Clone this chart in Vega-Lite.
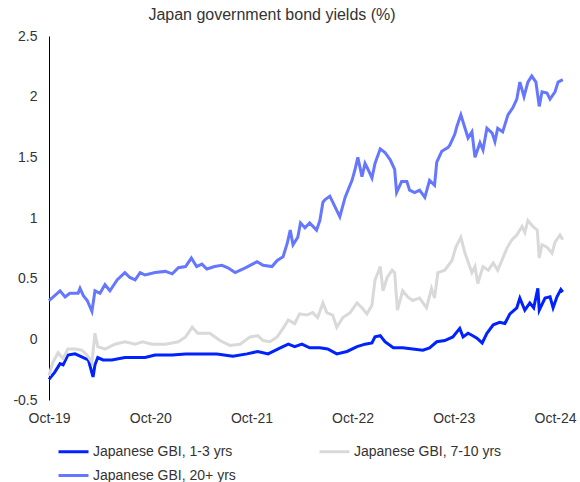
{
  "$schema": "https://vega.github.io/schema/vega-lite/v6.json",
  "width": 516,
  "height": 364,
  "autosize": "none",
  "padding": {"left": 49, "top": 36, "right": 15, "bottom": 82},
  "background": "white",
  "config": {"view": {"stroke": null}, "font": "Liberation Sans"},
  "title": {"text": "Japan government bond yields (%)", "fontSize": 16, "fontWeight": "normal", "color": "#333333", "offset": 6, "anchor": "middle", "dx": -35, "font": "Liberation Sans"},
  "layer": [
    {
      "mark": {"type": "rule", "color": "#404040", "strokeWidth": 1},
      "encoding": {"y": {"datum": 0}}
    },
    {
      "data": {"values": [
        {"date": "2019-10-01", "series": "Japanese GBI, 1-3 yrs", "value": -0.33},
        {"date": "2019-10-22", "series": "Japanese GBI, 1-3 yrs", "value": -0.27},
        {"date": "2019-11-10", "series": "Japanese GBI, 1-3 yrs", "value": -0.20},
        {"date": "2019-11-21", "series": "Japanese GBI, 1-3 yrs", "value": -0.21},
        {"date": "2019-12-08", "series": "Japanese GBI, 1-3 yrs", "value": -0.13},
        {"date": "2020-01-03", "series": "Japanese GBI, 1-3 yrs", "value": -0.12},
        {"date": "2020-02-02", "series": "Japanese GBI, 1-3 yrs", "value": -0.15},
        {"date": "2020-02-20", "series": "Japanese GBI, 1-3 yrs", "value": -0.17},
        {"date": "2020-03-08", "series": "Japanese GBI, 1-3 yrs", "value": -0.31},
        {"date": "2020-03-15", "series": "Japanese GBI, 1-3 yrs", "value": -0.21},
        {"date": "2020-03-25", "series": "Japanese GBI, 1-3 yrs", "value": -0.15},
        {"date": "2020-04-13", "series": "Japanese GBI, 1-3 yrs", "value": -0.17},
        {"date": "2020-05-15", "series": "Japanese GBI, 1-3 yrs", "value": -0.17},
        {"date": "2020-07-01", "series": "Japanese GBI, 1-3 yrs", "value": -0.15},
        {"date": "2020-09-12", "series": "Japanese GBI, 1-3 yrs", "value": -0.15},
        {"date": "2020-10-18", "series": "Japanese GBI, 1-3 yrs", "value": -0.13},
        {"date": "2020-12-19", "series": "Japanese GBI, 1-3 yrs", "value": -0.13},
        {"date": "2021-02-05", "series": "Japanese GBI, 1-3 yrs", "value": -0.12},
        {"date": "2021-03-21", "series": "Japanese GBI, 1-3 yrs", "value": -0.12},
        {"date": "2021-05-29", "series": "Japanese GBI, 1-3 yrs", "value": -0.12},
        {"date": "2021-07-26", "series": "Japanese GBI, 1-3 yrs", "value": -0.14},
        {"date": "2021-09-15", "series": "Japanese GBI, 1-3 yrs", "value": -0.12},
        {"date": "2021-10-24", "series": "Japanese GBI, 1-3 yrs", "value": -0.10},
        {"date": "2021-11-30", "series": "Japanese GBI, 1-3 yrs", "value": -0.12},
        {"date": "2022-01-13", "series": "Japanese GBI, 1-3 yrs", "value": -0.07},
        {"date": "2022-02-11", "series": "Japanese GBI, 1-3 yrs", "value": -0.04},
        {"date": "2022-03-06", "series": "Japanese GBI, 1-3 yrs", "value": -0.06},
        {"date": "2022-04-01", "series": "Japanese GBI, 1-3 yrs", "value": -0.04},
        {"date": "2022-04-29", "series": "Japanese GBI, 1-3 yrs", "value": -0.07},
        {"date": "2022-06-05", "series": "Japanese GBI, 1-3 yrs", "value": -0.07},
        {"date": "2022-07-03", "series": "Japanese GBI, 1-3 yrs", "value": -0.08},
        {"date": "2022-08-05", "series": "Japanese GBI, 1-3 yrs", "value": -0.12},
        {"date": "2022-09-11", "series": "Japanese GBI, 1-3 yrs", "value": -0.10},
        {"date": "2022-10-17", "series": "Japanese GBI, 1-3 yrs", "value": -0.06},
        {"date": "2022-11-15", "series": "Japanese GBI, 1-3 yrs", "value": -0.04},
        {"date": "2022-12-10", "series": "Japanese GBI, 1-3 yrs", "value": -0.03},
        {"date": "2022-12-21", "series": "Japanese GBI, 1-3 yrs", "value": 0.02},
        {"date": "2023-01-09", "series": "Japanese GBI, 1-3 yrs", "value": 0.03},
        {"date": "2023-01-26", "series": "Japanese GBI, 1-3 yrs", "value": -0.02},
        {"date": "2023-02-25", "series": "Japanese GBI, 1-3 yrs", "value": -0.07},
        {"date": "2023-03-31", "series": "Japanese GBI, 1-3 yrs", "value": -0.07},
        {"date": "2023-05-06", "series": "Japanese GBI, 1-3 yrs", "value": -0.08},
        {"date": "2023-06-12", "series": "Japanese GBI, 1-3 yrs", "value": -0.09},
        {"date": "2023-07-06", "series": "Japanese GBI, 1-3 yrs", "value": -0.07},
        {"date": "2023-08-01", "series": "Japanese GBI, 1-3 yrs", "value": -0.02},
        {"date": "2023-08-30", "series": "Japanese GBI, 1-3 yrs", "value": -0.01},
        {"date": "2023-09-28", "series": "Japanese GBI, 1-3 yrs", "value": 0.02},
        {"date": "2023-10-23", "series": "Japanese GBI, 1-3 yrs", "value": 0.09},
        {"date": "2023-11-04", "series": "Japanese GBI, 1-3 yrs", "value": 0.02},
        {"date": "2023-11-22", "series": "Japanese GBI, 1-3 yrs", "value": 0.05},
        {"date": "2023-12-09", "series": "Japanese GBI, 1-3 yrs", "value": 0.03},
        {"date": "2023-12-24", "series": "Japanese GBI, 1-3 yrs", "value": 0.01},
        {"date": "2024-01-12", "series": "Japanese GBI, 1-3 yrs", "value": -0.03},
        {"date": "2024-01-29", "series": "Japanese GBI, 1-3 yrs", "value": 0.05},
        {"date": "2024-02-21", "series": "Japanese GBI, 1-3 yrs", "value": 0.12},
        {"date": "2024-03-15", "series": "Japanese GBI, 1-3 yrs", "value": 0.14},
        {"date": "2024-04-03", "series": "Japanese GBI, 1-3 yrs", "value": 0.13},
        {"date": "2024-04-21", "series": "Japanese GBI, 1-3 yrs", "value": 0.21},
        {"date": "2024-05-16", "series": "Japanese GBI, 1-3 yrs", "value": 0.26},
        {"date": "2024-05-27", "series": "Japanese GBI, 1-3 yrs", "value": 0.34},
        {"date": "2024-06-14", "series": "Japanese GBI, 1-3 yrs", "value": 0.24},
        {"date": "2024-07-02", "series": "Japanese GBI, 1-3 yrs", "value": 0.30},
        {"date": "2024-07-16", "series": "Japanese GBI, 1-3 yrs", "value": 0.26},
        {"date": "2024-07-31", "series": "Japanese GBI, 1-3 yrs", "value": 0.42},
        {"date": "2024-08-05", "series": "Japanese GBI, 1-3 yrs", "value": 0.24},
        {"date": "2024-08-26", "series": "Japanese GBI, 1-3 yrs", "value": 0.34},
        {"date": "2024-09-13", "series": "Japanese GBI, 1-3 yrs", "value": 0.35},
        {"date": "2024-09-24", "series": "Japanese GBI, 1-3 yrs", "value": 0.26},
        {"date": "2024-10-08", "series": "Japanese GBI, 1-3 yrs", "value": 0.35},
        {"date": "2024-10-22", "series": "Japanese GBI, 1-3 yrs", "value": 0.41},
        {"date": "2024-10-29", "series": "Japanese GBI, 1-3 yrs", "value": 0.39},

        {"date": "2019-10-01", "series": "Japanese GBI, 7-10 yrs", "value": -0.30},
        {"date": "2019-10-15", "series": "Japanese GBI, 7-10 yrs", "value": -0.19},
        {"date": "2019-11-03", "series": "Japanese GBI, 7-10 yrs", "value": -0.11},
        {"date": "2019-11-21", "series": "Japanese GBI, 7-10 yrs", "value": -0.16},
        {"date": "2019-12-08", "series": "Japanese GBI, 7-10 yrs", "value": -0.08},
        {"date": "2020-01-03", "series": "Japanese GBI, 7-10 yrs", "value": -0.08},
        {"date": "2020-01-28", "series": "Japanese GBI, 7-10 yrs", "value": -0.09},
        {"date": "2020-02-16", "series": "Japanese GBI, 7-10 yrs", "value": -0.13},
        {"date": "2020-03-04", "series": "Japanese GBI, 7-10 yrs", "value": -0.19},
        {"date": "2020-03-15", "series": "Japanese GBI, 7-10 yrs", "value": 0.05},
        {"date": "2020-03-25", "series": "Japanese GBI, 7-10 yrs", "value": -0.06},
        {"date": "2020-04-20", "series": "Japanese GBI, 7-10 yrs", "value": -0.08},
        {"date": "2020-05-26", "series": "Japanese GBI, 7-10 yrs", "value": -0.04},
        {"date": "2020-07-01", "series": "Japanese GBI, 7-10 yrs", "value": -0.02},
        {"date": "2020-08-07", "series": "Japanese GBI, 7-10 yrs", "value": -0.04},
        {"date": "2020-09-02", "series": "Japanese GBI, 7-10 yrs", "value": -0.02},
        {"date": "2020-10-07", "series": "Japanese GBI, 7-10 yrs", "value": -0.04},
        {"date": "2020-11-24", "series": "Japanese GBI, 7-10 yrs", "value": -0.04},
        {"date": "2021-01-10", "series": "Japanese GBI, 7-10 yrs", "value": -0.02},
        {"date": "2021-02-05", "series": "Japanese GBI, 7-10 yrs", "value": 0.02},
        {"date": "2021-03-01", "series": "Japanese GBI, 7-10 yrs", "value": 0.10},
        {"date": "2021-03-21", "series": "Japanese GBI, 7-10 yrs", "value": 0.05},
        {"date": "2021-05-04", "series": "Japanese GBI, 7-10 yrs", "value": 0.05},
        {"date": "2021-06-09", "series": "Japanese GBI, 7-10 yrs", "value": -0.01},
        {"date": "2021-07-15", "series": "Japanese GBI, 7-10 yrs", "value": -0.05},
        {"date": "2021-08-21", "series": "Japanese GBI, 7-10 yrs", "value": -0.04},
        {"date": "2021-09-26", "series": "Japanese GBI, 7-10 yrs", "value": 0.02},
        {"date": "2021-10-24", "series": "Japanese GBI, 7-10 yrs", "value": 0.03},
        {"date": "2021-11-12", "series": "Japanese GBI, 7-10 yrs", "value": -0.01},
        {"date": "2021-12-07", "series": "Japanese GBI, 7-10 yrs", "value": -0.02},
        {"date": "2022-01-02", "series": "Japanese GBI, 7-10 yrs", "value": 0.02},
        {"date": "2022-01-23", "series": "Japanese GBI, 7-10 yrs", "value": 0.09},
        {"date": "2022-02-11", "series": "Japanese GBI, 7-10 yrs", "value": 0.16},
        {"date": "2022-03-06", "series": "Japanese GBI, 7-10 yrs", "value": 0.13},
        {"date": "2022-03-24", "series": "Japanese GBI, 7-10 yrs", "value": 0.21},
        {"date": "2022-04-19", "series": "Japanese GBI, 7-10 yrs", "value": 0.20},
        {"date": "2022-05-10", "series": "Japanese GBI, 7-10 yrs", "value": 0.22},
        {"date": "2022-05-28", "series": "Japanese GBI, 7-10 yrs", "value": 0.18},
        {"date": "2022-06-16", "series": "Japanese GBI, 7-10 yrs", "value": 0.30},
        {"date": "2022-06-30", "series": "Japanese GBI, 7-10 yrs", "value": 0.22},
        {"date": "2022-07-21", "series": "Japanese GBI, 7-10 yrs", "value": 0.20},
        {"date": "2022-08-05", "series": "Japanese GBI, 7-10 yrs", "value": 0.10},
        {"date": "2022-08-27", "series": "Japanese GBI, 7-10 yrs", "value": 0.18},
        {"date": "2022-09-22", "series": "Japanese GBI, 7-10 yrs", "value": 0.22},
        {"date": "2022-10-17", "series": "Japanese GBI, 7-10 yrs", "value": 0.30},
        {"date": "2022-11-04", "series": "Japanese GBI, 7-10 yrs", "value": 0.26},
        {"date": "2022-11-22", "series": "Japanese GBI, 7-10 yrs", "value": 0.21},
        {"date": "2022-12-10", "series": "Japanese GBI, 7-10 yrs", "value": 0.28},
        {"date": "2022-12-21", "series": "Japanese GBI, 7-10 yrs", "value": 0.49},
        {"date": "2023-01-01", "series": "Japanese GBI, 7-10 yrs", "value": 0.55},
        {"date": "2023-01-09", "series": "Japanese GBI, 7-10 yrs", "value": 0.60},
        {"date": "2023-01-19", "series": "Japanese GBI, 7-10 yrs", "value": 0.40},
        {"date": "2023-02-03", "series": "Japanese GBI, 7-10 yrs", "value": 0.51},
        {"date": "2023-02-21", "series": "Japanese GBI, 7-10 yrs", "value": 0.57},
        {"date": "2023-03-02", "series": "Japanese GBI, 7-10 yrs", "value": 0.55},
        {"date": "2023-03-12", "series": "Japanese GBI, 7-10 yrs", "value": 0.24},
        {"date": "2023-03-31", "series": "Japanese GBI, 7-10 yrs", "value": 0.40},
        {"date": "2023-04-18", "series": "Japanese GBI, 7-10 yrs", "value": 0.35},
        {"date": "2023-05-06", "series": "Japanese GBI, 7-10 yrs", "value": 0.32},
        {"date": "2023-05-31", "series": "Japanese GBI, 7-10 yrs", "value": 0.34},
        {"date": "2023-06-25", "series": "Japanese GBI, 7-10 yrs", "value": 0.26},
        {"date": "2023-07-13", "series": "Japanese GBI, 7-10 yrs", "value": 0.42},
        {"date": "2023-07-24", "series": "Japanese GBI, 7-10 yrs", "value": 0.34},
        {"date": "2023-08-05", "series": "Japanese GBI, 7-10 yrs", "value": 0.55},
        {"date": "2023-08-30", "series": "Japanese GBI, 7-10 yrs", "value": 0.57},
        {"date": "2023-09-25", "series": "Japanese GBI, 7-10 yrs", "value": 0.65},
        {"date": "2023-10-09", "series": "Japanese GBI, 7-10 yrs", "value": 0.76},
        {"date": "2023-10-27", "series": "Japanese GBI, 7-10 yrs", "value": 0.84},
        {"date": "2023-11-11", "series": "Japanese GBI, 7-10 yrs", "value": 0.71},
        {"date": "2023-11-22", "series": "Japanese GBI, 7-10 yrs", "value": 0.64},
        {"date": "2023-12-06", "series": "Japanese GBI, 7-10 yrs", "value": 0.55},
        {"date": "2023-12-17", "series": "Japanese GBI, 7-10 yrs", "value": 0.60},
        {"date": "2023-12-27", "series": "Japanese GBI, 7-10 yrs", "value": 0.46},
        {"date": "2024-01-15", "series": "Japanese GBI, 7-10 yrs", "value": 0.60},
        {"date": "2024-02-03", "series": "Japanese GBI, 7-10 yrs", "value": 0.57},
        {"date": "2024-02-21", "series": "Japanese GBI, 7-10 yrs", "value": 0.63},
        {"date": "2024-03-08", "series": "Japanese GBI, 7-10 yrs", "value": 0.57},
        {"date": "2024-03-23", "series": "Japanese GBI, 7-10 yrs", "value": 0.65},
        {"date": "2024-04-10", "series": "Japanese GBI, 7-10 yrs", "value": 0.75},
        {"date": "2024-04-28", "series": "Japanese GBI, 7-10 yrs", "value": 0.82},
        {"date": "2024-05-16", "series": "Japanese GBI, 7-10 yrs", "value": 0.86},
        {"date": "2024-06-04", "series": "Japanese GBI, 7-10 yrs", "value": 0.93},
        {"date": "2024-06-14", "series": "Japanese GBI, 7-10 yrs", "value": 0.88},
        {"date": "2024-06-25", "series": "Japanese GBI, 7-10 yrs", "value": 0.98},
        {"date": "2024-07-13", "series": "Japanese GBI, 7-10 yrs", "value": 0.93},
        {"date": "2024-07-29", "series": "Japanese GBI, 7-10 yrs", "value": 0.90},
        {"date": "2024-08-05", "series": "Japanese GBI, 7-10 yrs", "value": 0.67},
        {"date": "2024-08-15", "series": "Japanese GBI, 7-10 yrs", "value": 0.78},
        {"date": "2024-09-02", "series": "Japanese GBI, 7-10 yrs", "value": 0.76},
        {"date": "2024-09-20", "series": "Japanese GBI, 7-10 yrs", "value": 0.71},
        {"date": "2024-10-01", "series": "Japanese GBI, 7-10 yrs", "value": 0.80},
        {"date": "2024-10-19", "series": "Japanese GBI, 7-10 yrs", "value": 0.86},
        {"date": "2024-10-29", "series": "Japanese GBI, 7-10 yrs", "value": 0.82},

        {"date": "2019-10-01", "series": "Japanese GBI, 20+ yrs", "value": 0.32},
        {"date": "2019-11-10", "series": "Japanese GBI, 20+ yrs", "value": 0.40},
        {"date": "2019-11-28", "series": "Japanese GBI, 20+ yrs", "value": 0.35},
        {"date": "2019-12-15", "series": "Japanese GBI, 20+ yrs", "value": 0.38},
        {"date": "2020-01-14", "series": "Japanese GBI, 20+ yrs", "value": 0.38},
        {"date": "2020-01-21", "series": "Japanese GBI, 20+ yrs", "value": 0.42},
        {"date": "2020-02-02", "series": "Japanese GBI, 20+ yrs", "value": 0.36},
        {"date": "2020-02-16", "series": "Japanese GBI, 20+ yrs", "value": 0.32},
        {"date": "2020-03-04", "series": "Japanese GBI, 20+ yrs", "value": 0.23},
        {"date": "2020-03-15", "series": "Japanese GBI, 20+ yrs", "value": 0.40},
        {"date": "2020-04-02", "series": "Japanese GBI, 20+ yrs", "value": 0.38},
        {"date": "2020-04-20", "series": "Japanese GBI, 20+ yrs", "value": 0.45},
        {"date": "2020-05-08", "series": "Japanese GBI, 20+ yrs", "value": 0.40},
        {"date": "2020-06-03", "series": "Japanese GBI, 20+ yrs", "value": 0.49},
        {"date": "2020-07-01", "series": "Japanese GBI, 20+ yrs", "value": 0.55},
        {"date": "2020-07-19", "series": "Japanese GBI, 20+ yrs", "value": 0.51},
        {"date": "2020-08-07", "series": "Japanese GBI, 20+ yrs", "value": 0.49},
        {"date": "2020-08-25", "series": "Japanese GBI, 20+ yrs", "value": 0.55},
        {"date": "2020-09-12", "series": "Japanese GBI, 20+ yrs", "value": 0.53},
        {"date": "2020-10-18", "series": "Japanese GBI, 20+ yrs", "value": 0.55},
        {"date": "2020-11-24", "series": "Japanese GBI, 20+ yrs", "value": 0.56},
        {"date": "2020-12-19", "series": "Japanese GBI, 20+ yrs", "value": 0.54},
        {"date": "2021-01-10", "series": "Japanese GBI, 20+ yrs", "value": 0.59},
        {"date": "2021-02-05", "series": "Japanese GBI, 20+ yrs", "value": 0.60},
        {"date": "2021-02-26", "series": "Japanese GBI, 20+ yrs", "value": 0.67},
        {"date": "2021-03-17", "series": "Japanese GBI, 20+ yrs", "value": 0.60},
        {"date": "2021-04-05", "series": "Japanese GBI, 20+ yrs", "value": 0.62},
        {"date": "2021-04-23", "series": "Japanese GBI, 20+ yrs", "value": 0.58},
        {"date": "2021-05-21", "series": "Japanese GBI, 20+ yrs", "value": 0.60},
        {"date": "2021-06-16", "series": "Japanese GBI, 20+ yrs", "value": 0.61},
        {"date": "2021-07-08", "series": "Japanese GBI, 20+ yrs", "value": 0.59},
        {"date": "2021-08-03", "series": "Japanese GBI, 20+ yrs", "value": 0.55},
        {"date": "2021-09-01", "series": "Japanese GBI, 20+ yrs", "value": 0.58},
        {"date": "2021-09-26", "series": "Japanese GBI, 20+ yrs", "value": 0.61},
        {"date": "2021-10-21", "series": "Japanese GBI, 20+ yrs", "value": 0.64},
        {"date": "2021-11-12", "series": "Japanese GBI, 20+ yrs", "value": 0.61},
        {"date": "2021-12-14", "series": "Japanese GBI, 20+ yrs", "value": 0.60},
        {"date": "2022-01-02", "series": "Japanese GBI, 20+ yrs", "value": 0.65},
        {"date": "2022-01-23", "series": "Japanese GBI, 20+ yrs", "value": 0.68},
        {"date": "2022-02-07", "series": "Japanese GBI, 20+ yrs", "value": 0.79},
        {"date": "2022-02-18", "series": "Japanese GBI, 20+ yrs", "value": 0.90},
        {"date": "2022-02-28", "series": "Japanese GBI, 20+ yrs", "value": 0.78},
        {"date": "2022-03-17", "series": "Japanese GBI, 20+ yrs", "value": 0.84},
        {"date": "2022-03-27", "series": "Japanese GBI, 20+ yrs", "value": 0.96},
        {"date": "2022-04-12", "series": "Japanese GBI, 20+ yrs", "value": 0.92},
        {"date": "2022-04-29", "series": "Japanese GBI, 20+ yrs", "value": 0.96},
        {"date": "2022-05-24", "series": "Japanese GBI, 20+ yrs", "value": 0.90},
        {"date": "2022-06-05", "series": "Japanese GBI, 20+ yrs", "value": 0.98},
        {"date": "2022-06-16", "series": "Japanese GBI, 20+ yrs", "value": 1.13},
        {"date": "2022-06-23", "series": "Japanese GBI, 20+ yrs", "value": 1.15},
        {"date": "2022-07-11", "series": "Japanese GBI, 20+ yrs", "value": 1.18},
        {"date": "2022-07-28", "series": "Japanese GBI, 20+ yrs", "value": 1.10},
        {"date": "2022-08-16", "series": "Japanese GBI, 20+ yrs", "value": 1.01},
        {"date": "2022-09-04", "series": "Japanese GBI, 20+ yrs", "value": 1.17},
        {"date": "2022-09-29", "series": "Japanese GBI, 20+ yrs", "value": 1.31},
        {"date": "2022-10-10", "series": "Japanese GBI, 20+ yrs", "value": 1.40},
        {"date": "2022-10-20", "series": "Japanese GBI, 20+ yrs", "value": 1.50},
        {"date": "2022-11-04", "series": "Japanese GBI, 20+ yrs", "value": 1.34},
        {"date": "2022-11-15", "series": "Japanese GBI, 20+ yrs", "value": 1.45},
        {"date": "2022-11-26", "series": "Japanese GBI, 20+ yrs", "value": 1.40},
        {"date": "2022-12-10", "series": "Japanese GBI, 20+ yrs", "value": 1.33},
        {"date": "2022-12-21", "series": "Japanese GBI, 20+ yrs", "value": 1.45},
        {"date": "2023-01-09", "series": "Japanese GBI, 20+ yrs", "value": 1.57},
        {"date": "2023-01-26", "series": "Japanese GBI, 20+ yrs", "value": 1.54},
        {"date": "2023-02-14", "series": "Japanese GBI, 20+ yrs", "value": 1.48},
        {"date": "2023-03-02", "series": "Japanese GBI, 20+ yrs", "value": 1.40},
        {"date": "2023-03-09", "series": "Japanese GBI, 20+ yrs", "value": 1.21},
        {"date": "2023-03-27", "series": "Japanese GBI, 20+ yrs", "value": 1.30},
        {"date": "2023-04-15", "series": "Japanese GBI, 20+ yrs", "value": 1.30},
        {"date": "2023-04-25", "series": "Japanese GBI, 20+ yrs", "value": 1.23},
        {"date": "2023-05-13", "series": "Japanese GBI, 20+ yrs", "value": 1.21},
        {"date": "2023-05-31", "series": "Japanese GBI, 20+ yrs", "value": 1.23},
        {"date": "2023-06-19", "series": "Japanese GBI, 20+ yrs", "value": 1.17},
        {"date": "2023-07-06", "series": "Japanese GBI, 20+ yrs", "value": 1.31},
        {"date": "2023-07-24", "series": "Japanese GBI, 20+ yrs", "value": 1.27},
        {"date": "2023-08-01", "series": "Japanese GBI, 20+ yrs", "value": 1.46},
        {"date": "2023-08-19", "series": "Japanese GBI, 20+ yrs", "value": 1.55},
        {"date": "2023-09-10", "series": "Japanese GBI, 20+ yrs", "value": 1.58},
        {"date": "2023-09-17", "series": "Japanese GBI, 20+ yrs", "value": 1.60},
        {"date": "2023-10-05", "series": "Japanese GBI, 20+ yrs", "value": 1.69},
        {"date": "2023-10-12", "series": "Japanese GBI, 20+ yrs", "value": 1.75},
        {"date": "2023-10-27", "series": "Japanese GBI, 20+ yrs", "value": 1.85},
        {"date": "2023-11-11", "series": "Japanese GBI, 20+ yrs", "value": 1.74},
        {"date": "2023-11-22", "series": "Japanese GBI, 20+ yrs", "value": 1.66},
        {"date": "2023-12-06", "series": "Japanese GBI, 20+ yrs", "value": 1.71},
        {"date": "2023-12-17", "series": "Japanese GBI, 20+ yrs", "value": 1.50},
        {"date": "2024-01-04", "series": "Japanese GBI, 20+ yrs", "value": 1.62},
        {"date": "2024-01-15", "series": "Japanese GBI, 20+ yrs", "value": 1.56},
        {"date": "2024-01-29", "series": "Japanese GBI, 20+ yrs", "value": 1.74},
        {"date": "2024-02-17", "series": "Japanese GBI, 20+ yrs", "value": 1.70},
        {"date": "2024-02-27", "series": "Japanese GBI, 20+ yrs", "value": 1.63},
        {"date": "2024-03-08", "series": "Japanese GBI, 20+ yrs", "value": 1.74},
        {"date": "2024-03-26", "series": "Japanese GBI, 20+ yrs", "value": 1.71},
        {"date": "2024-04-14", "series": "Japanese GBI, 20+ yrs", "value": 1.85},
        {"date": "2024-05-02", "series": "Japanese GBI, 20+ yrs", "value": 1.91},
        {"date": "2024-05-16", "series": "Japanese GBI, 20+ yrs", "value": 1.98},
        {"date": "2024-05-27", "series": "Japanese GBI, 20+ yrs", "value": 2.12},
        {"date": "2024-06-11", "series": "Japanese GBI, 20+ yrs", "value": 2.00},
        {"date": "2024-06-25", "series": "Japanese GBI, 20+ yrs", "value": 2.12},
        {"date": "2024-07-09", "series": "Japanese GBI, 20+ yrs", "value": 2.17},
        {"date": "2024-07-24", "series": "Japanese GBI, 20+ yrs", "value": 2.12},
        {"date": "2024-08-05", "series": "Japanese GBI, 20+ yrs", "value": 1.92},
        {"date": "2024-08-15", "series": "Japanese GBI, 20+ yrs", "value": 2.04},
        {"date": "2024-09-02", "series": "Japanese GBI, 20+ yrs", "value": 2.03},
        {"date": "2024-09-13", "series": "Japanese GBI, 20+ yrs", "value": 1.98},
        {"date": "2024-10-01", "series": "Japanese GBI, 20+ yrs", "value": 2.04},
        {"date": "2024-10-12", "series": "Japanese GBI, 20+ yrs", "value": 2.12},
        {"date": "2024-10-29", "series": "Japanese GBI, 20+ yrs", "value": 2.14}
      ]},
      "mark": {"type": "line", "strokeWidth": 3},
      "encoding": {
        "x": {
          "field": "date", "type": "temporal",
          "scale": {"type": "utc", "domain": [{"year": 2019, "month": 10, "date": 1, "utc": true}, {"year": 2024, "month": 11, "date": 6, "utc": true}]},
          "axis": {
            "title": null,
            "values": [
              {"year": 2019, "month": 10, "date": 1, "utc": true},
              {"year": 2020, "month": 10, "date": 1, "utc": true},
              {"year": 2021, "month": 10, "date": 1, "utc": true},
              {"year": 2022, "month": 10, "date": 1, "utc": true},
              {"year": 2023, "month": 10, "date": 1, "utc": true},
              {"year": 2024, "month": 10, "date": 1, "utc": true}
            ],
            "format": "%b-%y",
            "grid": false, "ticks": false, "domain": false,
            "labelFontSize": 14, "labelColor": "#333333", "labelPadding": 11,
            "labelFlush": false, "labelOverlap": false, "labelFont": "Liberation Sans"
          }
        },
        "y": {
          "field": "value", "type": "quantitative",
          "scale": {"domain": [-0.5, 2.5], "nice": false, "zero": false},
          "axis": {
            "title": null,
            "values": [-0.5, 0, 0.5, 1, 1.5, 2, 2.5],
            "grid": false, "ticks": false, "domain": true,
            "domainColor": "#000000", "domainWidth": 1,
            "labelFontSize": 14, "labelColor": "#333333", "labelPadding": 12,
            "labelExpr": "datum.value + ''", "labelFont": "Liberation Sans"
          }
        },
        "color": {
          "field": "series", "type": "nominal",
          "scale": {
            "domain": ["Japanese GBI, 1-3 yrs", "Japanese GBI, 7-10 yrs", "Japanese GBI, 20+ yrs"],
            "range": ["#0022FF", "#D9D9D9", "#6677FF"]
          },
          "legend": {
            "title": null, "orient": "none", "direction": "horizontal", "legendX": 8, "legendY": 399,
            "columns": 2, "symbolType": "stroke", "symbolSize": 900, "symbolStrokeWidth": 3,
            "labelFontSize": 14, "labelColor": "#333333", "labelFont": "Liberation Sans",
            "columnPadding": 77, "rowPadding": -12, "labelOffset": 3
          }
        }
      }
    }
  ]
}
